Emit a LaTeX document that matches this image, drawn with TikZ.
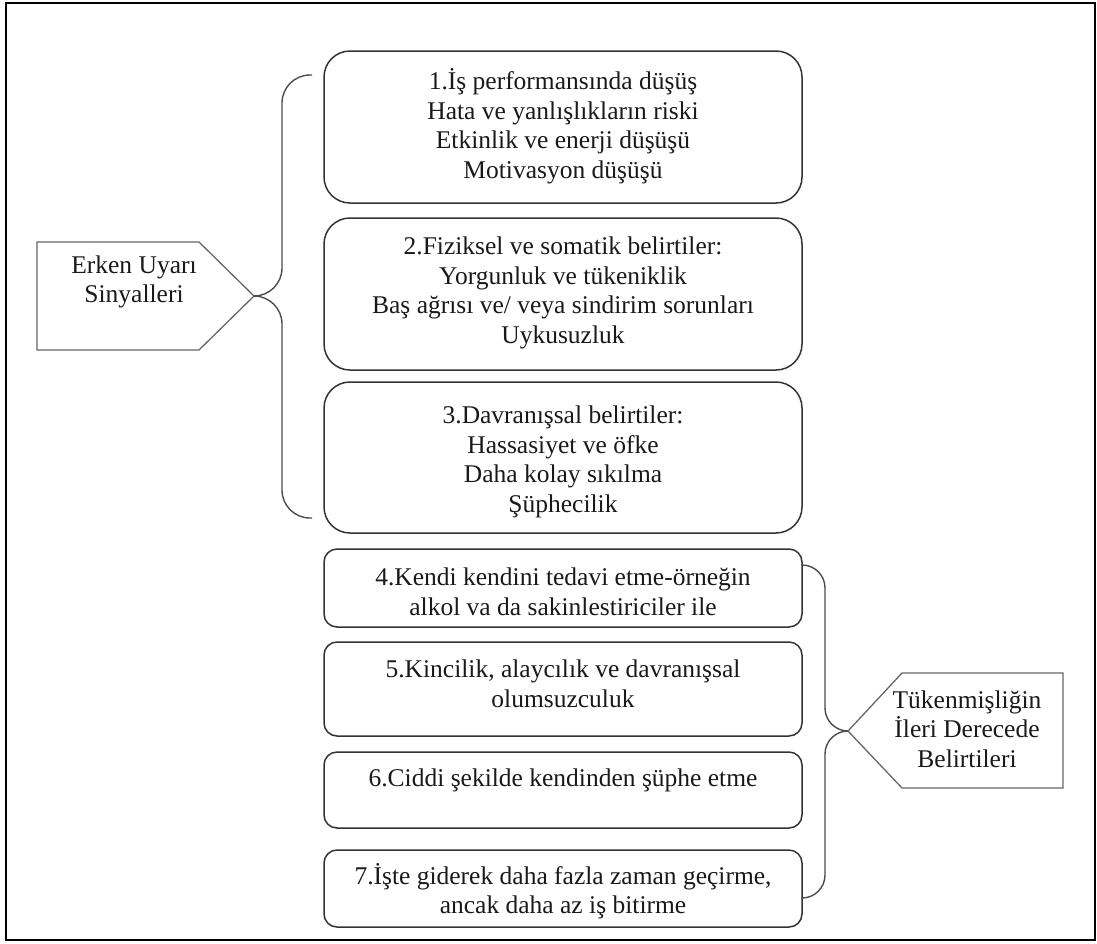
\documentclass[tikz,border=0pt]{standalone}
\usepackage{fontspec}
\setmainfont{Liberation Serif}
\tikzset{
  boxbig/.style={draw=black!80, line width=1.5pt, rounded corners=26pt, minimum width=478pt, inner sep=0pt},
  boxsmall/.style={draw=black!80, line width=1.5pt, rounded corners=13pt, minimum width=478pt, inner sep=0pt},
  txt/.style={align=center, inner sep=0pt, text=black!90, font=\fontsize{25.5}{29.5}\selectfont},
  brace/.style={draw=black!70, line width=1.4pt},
  pent/.style={draw=black!60, line width=1.3pt},
  frame/.style={draw=black, line width=2pt}
}
\begin{document}
\begin{tikzpicture}[x=1pt,y=-1pt]
\useasboundingbox (0,0) rectangle (1097,943);
\draw[frame] (6,3) rectangle (1095,940);

% boxes
\node[boxbig, minimum height=152pt] (b1) at (563,127) {};
\node[boxbig, minimum height=152pt] (b2) at (563,294) {};
\node[boxbig, minimum height=151pt] (b3) at (563,457.5) {};
\node[boxsmall, minimum height=78pt] (b4) at (563,588) {};
\node[boxsmall, minimum height=94pt] (b5) at (563,689) {};
\node[boxsmall, minimum height=76pt] (b6) at (563,790) {};
\node[boxsmall, minimum height=77pt] (b7) at (563,888.5) {};

% texts
\node[txt] (t1) at (563,126) {1.İş performansında düşüş\\Hata ve yanlışlıkların riski\\Etkinlik ve enerji düşüşü\\Motivasyon düşüşü};
\node[txt] (t2) at (563,293) {2.Fiziksel ve somatik belirtiler:\\Yorgunluk ve tükeniklik\\Baş ağrısı ve/ veya sindirim sorunları\\Uykusuzluk};
\node[txt] (t3) at (563,462) {3.Davranışsal belirtiler:\\Hassasiyet ve öfke\\Daha kolay sıkılma\\Şüphecilik};
\node[txt] (t4) at (563,592) {4.Kendi kendini tedavi etme-örneğin\\alkol va da sakinlestiriciler ile};
\node[txt] (t5) at (563,684) {5.Kincilik, alaycılık ve davranışsal\\olumsuzculuk};
\node[txt] (t6) at (563,780) {6.Ciddi şekilde kendinden şüphe etme};
\node[txt] (t7) at (563,891) {7.İşte giderek daha fazla zaman geçirme,\\ancak daha az iş bitirme};

% left pentagon
\coordinate (ltip) at (254,296);
\draw[pent] (37,242) -- (199,242) -- (ltip) -- (199,350) -- (37,350) -- cycle;
\node[txt] (erken) at (134,282) {Erken Uyarı\\Sinyalleri};

% right pentagon
\coordinate (rtip) at (848,731);
\draw[pent] (rtip) -- (902,673) -- (1063,673) -- (1063,788) -- (902,788) -- cycle;
\node[txt] (tuken) at (967,729) {Tükenmişliğin\\İleri Derecede\\Belirtileri};

% left brace
\coordinate (ltop) at (312,75);
\coordinate (lbot) at (312,518);
\draw[brace, rounded corners=28pt] (ltop) -- (282,75) -- (282,296) -- (ltip);
\draw[brace, rounded corners=28pt] (ltip) -- (282,296) -- (282,518) -- (lbot);

% right brace
\coordinate (rtop) at (801,565);
\coordinate (rbot) at (801,898);
\draw[brace, rounded corners=23pt] (rtop) -- (825,565) -- (825,731) -- (rtip);
\draw[brace, rounded corners=23pt] (rtip) -- (825,731) -- (825,898) -- (rbot);
\end{tikzpicture}
\end{document}
